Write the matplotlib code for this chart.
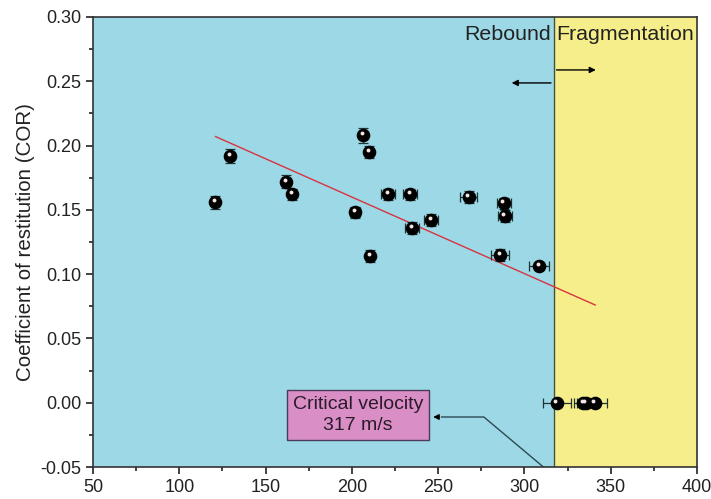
import matplotlib.pyplot as plt
from matplotlib.transforms import offset_copy

plt.rcParams['font.family'] = ['Liberation Sans', 'DejaVu Sans']

# rebound data (impact velocity m/s, COR)
vel = [120.7, 129.4, 161.8, 165.3, 206.4, 209.9, 201.8, 210.5, 220.9, 233.7,
       234.8, 245.8, 267.8, 288.1, 288.6, 285.8, 308.4]
cor = [0.156, 0.192, 0.172, 0.162, 0.208, 0.195, 0.148, 0.114, 0.162, 0.162,
       0.136, 0.142, 0.160, 0.155, 0.145, 0.115, 0.106]
vel_err = [0, 0, 0, 0, 0, 0, 3, 0, 4, 4, 4, 4, 5, 4, 4, 5, 6]
cor_err = [0.005, 0.0055, 0.005, 0.0045, 0.006, 0.005, 0.0045, 0.0045, 0.0045, 0.0045,
           0.0045, 0.0045, 0.0045, 0.0045, 0.0045, 0.0045, 0.003]

# fragmented samples
frag_vel = [318.8, 333.9, 335.6, 340.8]
frag_cor = [0.0, 0.0, 0.0, 0.0]
frag_err = [8, 5, 5, 7]

fit_x = [121, 341]
fit_y = [0.207, 0.076]

v_crit = 317

fig = plt.figure(figsize=(7.11, 4.99), dpi=100)
ax = fig.add_axes([0.1308, 0.0641, 0.8495, 0.9019])

ax.axvspan(50, v_crit, color='#9dd8e6', zorder=0)
ax.axvspan(v_crit, 400, color='#f6ee8a', zorder=0)
ax.axvline(v_crit, color='#3a5050', lw=1, zorder=1)

ax.plot(fit_x, fit_y, color='#d9333f', lw=1, zorder=2)

ebar = '#1f3535'
ax.errorbar(vel, cor, xerr=vel_err, yerr=cor_err, fmt='none', ecolor=ebar,
            elinewidth=0.9, capsize=3.5, capthick=0.9, zorder=3)
ax.errorbar(frag_vel, frag_cor, xerr=frag_err, fmt='none', ecolor=ebar,
            elinewidth=0.9, capsize=3.5, capthick=0.9, zorder=3)

all_v = vel + frag_vel
all_c = cor + frag_cor
ax.plot(all_v, all_c, 'o', ms=8.8, color='black', zorder=4)
hl = offset_copy(ax.transData, fig=fig, x=-1.0, y=1.4, units='points')
ax.plot(all_v, all_c, 'o', ms=2.8, color='#f4e4e4', mec='none',
        transform=hl, zorder=5)

ax.set_xlim(50, 400)
ax.set_ylim(-0.05, 0.30)
ax.set_xticks([50, 100, 150, 200, 250, 300, 350, 400])
ax.set_xticks([75, 125, 175, 225, 275, 325, 375], minor=True)
ax.set_yticks([-0.05, 0.00, 0.05, 0.10, 0.15, 0.20, 0.25, 0.30])
ax.set_yticks([-0.025, 0.025, 0.075, 0.125, 0.175, 0.225, 0.275], minor=True)
ax.set_yticklabels(['-0.05', '0.00', '0.05', '0.10', '0.15', '0.20', '0.25', '0.30'])
ax.tick_params(which='major', direction='out', length=5, width=1.2, labelsize=13,
               colors='#222222')
ax.tick_params(which='minor', direction='out', length=3, width=1.2, colors='#222222')
for s in ax.spines.values():
    s.set_linewidth(1.2)
    s.set_color('#333333')

ax.set_ylabel('Coefficient of restitution (COR)', fontsize=14.8, color='#222222')

ax.text(315.5, 0.286, 'Rebound', ha='right', va='center', fontsize=15.4, color='#222222')
ax.text(318.5, 0.286, 'Fragmentation', ha='left', va='center', fontsize=15.4, color='#222222')
ax.annotate('', xy=(291, 0.2487), xytext=(v_crit, 0.2487),
            arrowprops=dict(arrowstyle='-|>', color='black', lw=1, mutation_scale=9))
ax.annotate('', xy=(343, 0.2588), xytext=(v_crit, 0.2588),
            arrowprops=dict(arrowstyle='-|>', color='black', lw=1, mutation_scale=9))

ax.text(203.6, -0.0096, 'Critical velocity\n317 m/s', ha='center', va='center',
        fontsize=14, color='#2a1a2a', linespacing=1.3,
        bbox=dict(boxstyle='square,pad=0.3', fc='#d98fc6', ec='#4a3a5a', lw=1))
ax.plot([311, 276.5, 252], [-0.05, -0.0111, -0.0111], color='#2c4a52', lw=1, zorder=2)
ax.annotate('', xy=(245.5, -0.0111), xytext=(252, -0.0111),
            arrowprops=dict(arrowstyle='-|>', color='black', lw=1, mutation_scale=8))

fig.savefig('out.png', dpi=100)
